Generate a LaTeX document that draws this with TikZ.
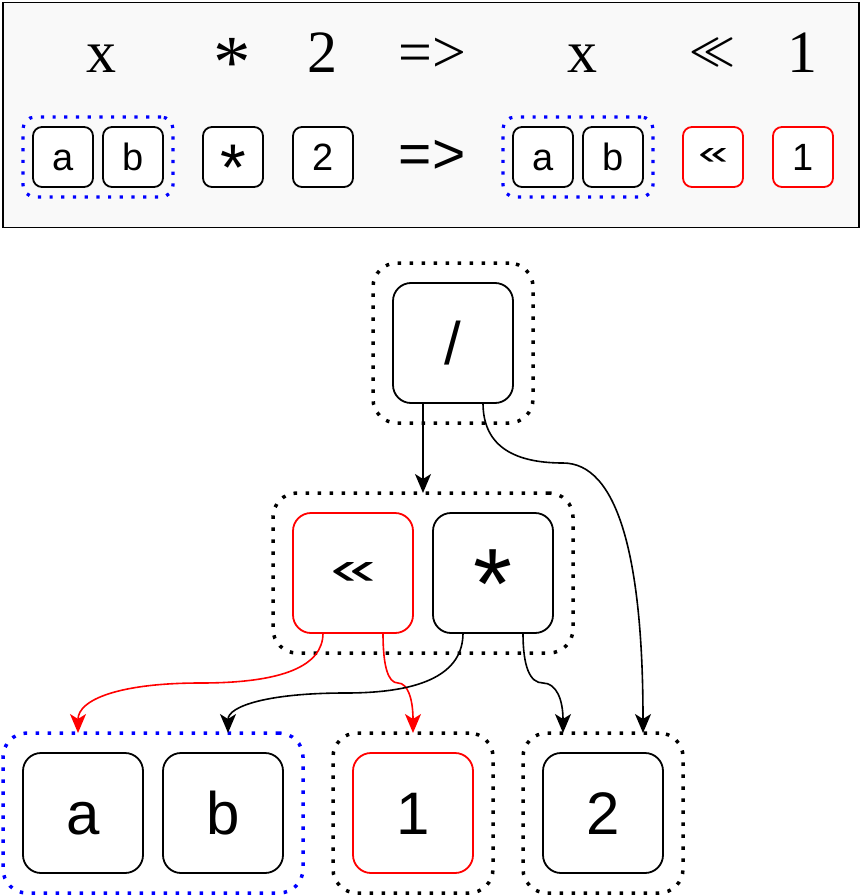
\documentclass[tikz,border=0pt]{standalone}
\usepackage{fontspec}
\usepackage{graphicx}
\setmainfont{Liberation Serif}
\newfontfamily\lsans{Liberation Sans}
\usetikzlibrary{arrows.meta}
\definecolor{bgc}{RGB}{249,249,249}
\definecolor{myred}{RGB}{255,0,0}
\definecolor{myblue}{RGB}{0,0,255}
\begin{document}
\begin{tikzpicture}[x=1pt,y=-1pt,
  bx/.style={draw=black, line width=1.8pt, fill=white, rounded corners=18pt, minimum width=120pt, minimum height=120pt, inner sep=0pt, outer sep=0pt, font=\lsans\fontsize{60}{60}\selectfont, text height=43pt, text depth=0pt},
  sbx/.style={bx, rounded corners=9pt, minimum width=60pt, minimum height=60pt, font=\lsans\fontsize{38}{38}\selectfont, text height=27.2pt},
  cont/.style={draw=black, line width=3.5pt, dash pattern=on 3.5pt off 8.5pt, rounded corners=24pt, minimum width=160pt, minimum height=160pt, inner sep=0pt, outer sep=0pt},
  scont/.style={cont, draw=myblue, line width=3.2pt, dash pattern=on 3.2pt off 8.5pt, rounded corners=12pt, minimum width=150pt, minimum height=80pt},
  toptxt/.style={font=\fontsize{60}{60}\selectfont, anchor=base, inner sep=0pt},
  lbl/.style={inner sep=0pt, anchor=base},
  conn/.style={line width=1.6pt, -{Stealth[length=19pt,width=16pt,inset=5pt]}},
  rconn/.style={conn, draw=myred, -{Stealth[length=19pt,width=16pt,inset=5pt,fill=myred]}}
]
\useasboundingbox (0,0) rectangle (862,896);
% top frame
\node[draw=black, line width=1.6pt, fill=bgc, minimum width=856pt, minimum height=225pt, inner sep=0pt, outer sep=0pt] (frame) at (431,115) {};
% top row
\node[toptxt] (tx1) at (101.5,73) {x};
\node[toptxt, font=\fontsize{75}{75}\selectfont] (tmul) at (232,88) {*};
\node[toptxt] (ttwo) at (322,73) {2};
\node[toptxt] (timp) at (432,73) {=>};
\node[toptxt] (tx2) at (582,73) {x};
\node[inner sep=0pt] (tsh) at (712,52.5) {\scalebox{4}{\boldmath$\ll$}};
\node[toptxt] (tone) at (802,73) {1};
% second row
\node[scont] (bl1) at (98,157) {};
\node[sbx] (ra) at (63,157) {a};
\node[sbx] (rb) at (133,157) {b};
\node[sbx] (rmul) at (233,157) {};
\node[lbl, font=\lsans\fontsize{66}{66}\selectfont] (rmull) at (233,190) {*};
\node[sbx] (rtwo) at (323,157) {2};
\node[inner sep=0pt, font=\lsans\fontsize{57}{57}\selectfont] (rimp) at (432,157) {=>};
\node[scont] (bl2) at (578,157) {};
\node[sbx] (ra2) at (543,157) {a};
\node[sbx] (rb2) at (613,157) {b};
\node[sbx, draw=myred, text height=16pt] (rsh) at (713,157) {\resizebox{30pt}{16pt}{«}};
\node[sbx, draw=myred] (rone) at (803,157) {1};
% tree
\node[cont] (cdiv) at (453,343) {};
\node[bx] (div) at (453,343) {/};
\node[cont, minimum width=300pt] (cmid) at (423,573) {};
\node[bx, draw=myred, text height=22pt] (shl) at (353,573) {\resizebox{46pt}{22pt}{«}};
\node[bx] (mul) at (493,573) {};
\node[lbl, font=\lsans\fontsize{100}{100}\selectfont] (mull) at (493,618) {*};
\node[cont, draw=myblue, minimum width=300pt] (cab) at (153,813) {};
\node[bx] (a) at (83,813) {a};
\node[bx] (b) at (223,813) {b};
\node[cont] (cone) at (413,813) {};
\node[bx, draw=myred] (one) at (413,813) {1};
\node[cont] (ctwo) at (603,813) {};
\node[bx] (two) at (603,813) {2};
% connectors
\draw[conn] ([xshift=30pt]div.south west) -- (cmid.north);
\draw[conn] ([xshift=90pt]div.south west) .. controls +(0,40) and (509.67,463) .. (563,463)
  .. controls (616.33,463) and +(0,-180) .. ([xshift=120pt]ctwo.north west);
\draw[rconn] ([xshift=30pt]shl.south west) .. controls +(0,33.33) and (282.17,683) .. (200.5,683)
  .. controls (118.83,683) and +(0,-33.33) .. ([xshift=75pt]cab.north west);
\draw[rconn] ([xshift=90pt]shl.south west) .. controls +(0,33.33) and (388,683) .. (398,683)
  .. controls (408,683) and +(0,-33.33) .. (cone.north);
\draw[conn] ([xshift=30pt]mul.south west) .. controls +(0,40) and (423.83,693) .. (345.5,693)
  .. controls (267.17,693) and +(0,-26.67) .. ([xshift=225pt]cab.north west);
\draw[conn] ([xshift=90pt]mul.south west) .. controls +(0,33.33) and (529.67,683) .. (543,683)
  .. controls (556.33,683) and +(0,-33.33) .. ([xshift=40pt]ctwo.north west);
\end{tikzpicture}
\end{document}
